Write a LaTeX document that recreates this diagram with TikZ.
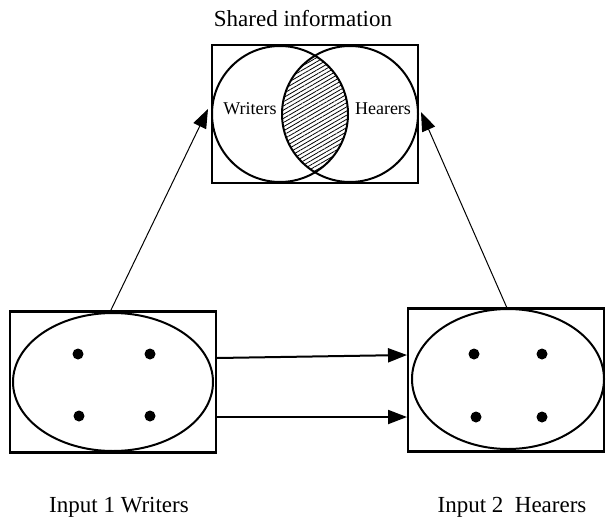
\documentclass[tikz,border=0pt]{standalone}
\usepackage{fontspec}
\setmainfont{Liberation Serif}
\usetikzlibrary{patterns.meta,arrows.meta}
\begin{document}
\begin{tikzpicture}[x=1pt,y=-1pt,
  frame/.style={draw,line width=2.2pt},
  ring/.style={draw,line width=2pt},
  dot/.style={fill,circle,inner sep=0pt,minimum size=11pt},
  lbl/.style={font=\fontsize{23}{25}\selectfont},
  small/.style={font=\fontsize{18}{20}\selectfont},
  arr/.style={-{Triangle[length=19pt,width=14pt]}}]
\useasboundingbox (0,0) rectangle (609,519);
% top box
\node[frame,minimum width=206pt,minimum height=138pt,inner sep=0pt] (top) at (315,114) {};
\begin{scope}
  \clip (280,114) circle (68);
  \fill[pattern={Lines[angle=30,distance=3.6pt,line width=0.8pt]}] (350,114) circle (68);
\end{scope}
\draw[ring] (280,114) circle (68);
\draw[ring] (350,114) circle (68);
\node[small] (w) at (250,109) {Writers};
\node[small] (h) at (383,109) {Hearers};
\node[lbl] (shared) at (303,19) {Shared information};
% left box
\node[frame,minimum width=206pt,minimum height=141pt,inner sep=0pt] (L) at (113,382) {};
\draw[ring] (113,382) ellipse (100 and 69);
\node[dot] (l1) at (78,354) {};
\node[dot] (l2) at (150,354) {};
\node[dot] (l3) at (79,416) {};
\node[dot] (l4) at (150,416) {};
\node[lbl] (lt) at (119,507) {Input 1 Writers};
% right box
\node[frame,minimum width=196pt,minimum height=143pt,inner sep=0pt] (R) at (506,380) {};
\draw[ring] (508,379) ellipse (96 and 70);
\node[dot] (r1) at (474,354) {};
\node[dot] (r2) at (542,354) {};
\node[dot] (r3) at (476,417) {};
\node[dot] (r4) at (542,417) {};
\node[lbl] (rt) at (512,507) {Input 2\ \ Hearers};
% arrows
\coordinate (a1s) at (110,312);
\coordinate (a1e) at (208,109);
\draw[arr,line width=1pt] (a1s) -- (a1e);
\coordinate (a2s) at (507,308);
\coordinate (a2e) at (421,112);
\draw[arr,line width=1pt] (a2s) -- (a2e);
\coordinate (h1s) at (217,358);
\coordinate (h1e) at (407,355);
\draw[arr,line width=2pt] (h1s) -- (h1e);
\coordinate (h2s) at (217,417);
\coordinate (h2e) at (407,417);
\draw[arr,line width=2pt] (h2s) -- (h2e);
\end{tikzpicture}
\end{document}
